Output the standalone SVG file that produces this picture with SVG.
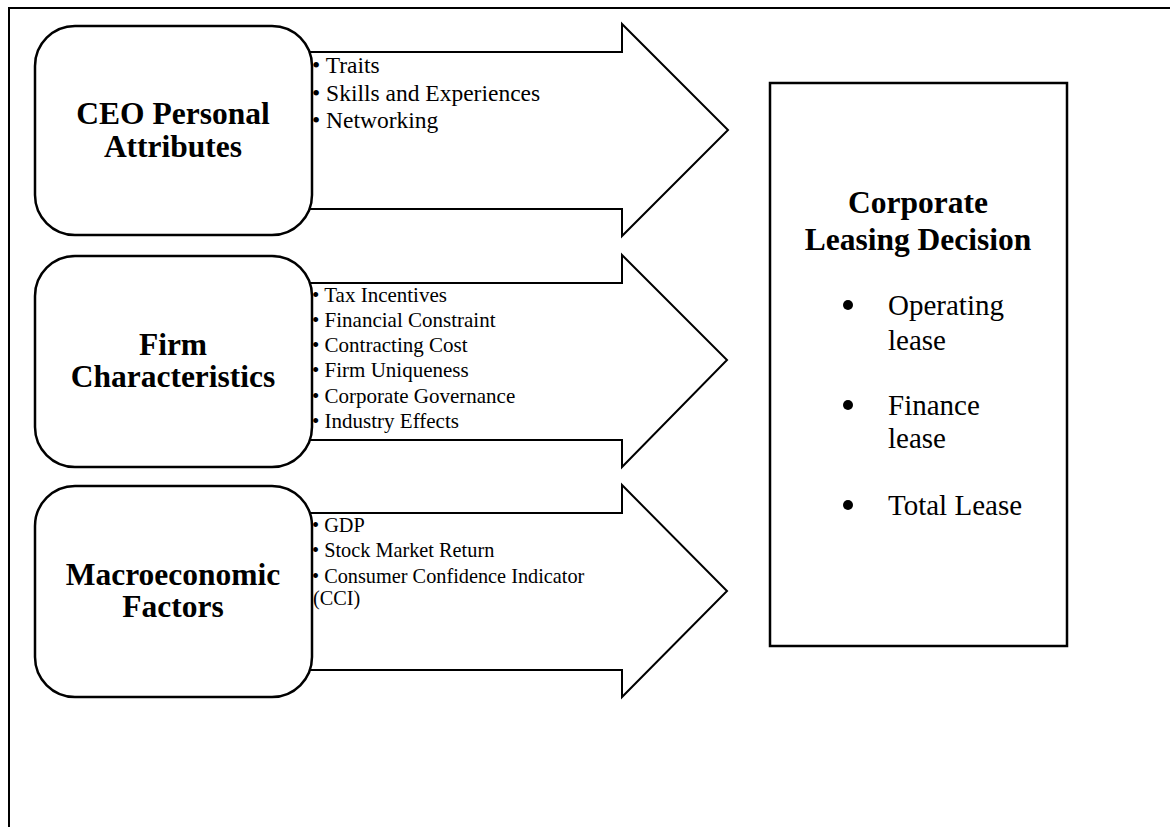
<svg xmlns="http://www.w3.org/2000/svg" width="1170" height="827" viewBox="0 0 1170 827">
<style>
.frame{stroke:#000;stroke-width:2;fill:none}
.node{fill:#fff;stroke:#000;stroke-width:2.5}
.arrow{fill:#fff;stroke:#000;stroke-width:2;stroke-linejoin:miter}
.title{font-family:"Liberation Serif","Times New Roman",serif;font-weight:bold;font-size:31.5px;fill:#000;text-anchor:middle}
.item{font-family:"Liberation Serif","Times New Roman",serif;fill:#000}
.big{font-family:"Liberation Serif","Times New Roman",serif;font-size:29px;fill:#000}
</style>
<rect width="1170" height="827" fill="#fff"/>
<path class="frame" d="M9,827 V8 H1170"/>
<g id="connectors">
  <g id="arrow-ceo">
    <path class="arrow" d="M280,52 H622 V24 L728,130 L622,236 V209 H280 Z"/>
    <text class="item" font-size="23.5"><tspan x="312" y="73">• Traits</tspan><tspan x="312" y="101">• Skills and Experiences</tspan><tspan x="312" y="128">• Networking</tspan></text>
  </g>
  <g id="arrow-firm">
    <path class="arrow" d="M280,283 H622 V255 L727,360 L622,467 V440 H280 Z"/>
    <text class="item" font-size="21"><tspan x="312" y="302">• Tax Incentives</tspan><tspan x="312" y="327">• Financial Constraint</tspan><tspan x="312" y="352">• Contracting Cost</tspan><tspan x="312" y="377">• Firm Uniqueness</tspan><tspan x="312" y="403">• Corporate Governance</tspan><tspan x="312" y="428">• Industry Effects</tspan></text>
  </g>
  <g id="arrow-macro">
    <path class="arrow" d="M280,513 H622 V485 L727,591 L622,697 V670 H280 Z"/>
    <text class="item" font-size="20.3"><tspan x="312" y="532">• GDP</tspan><tspan x="312" y="557">• Stock Market Return</tspan><tspan x="312" y="583">• Consumer Confidence Indicator</tspan><tspan x="313" y="605">(CCI)</tspan></text>
  </g>
</g>
<g id="node-ceo">
  <rect class="node" x="35" y="26" width="277" height="209" rx="40" ry="40"/>
  <text class="title"><tspan x="173" y="124">CEO Personal</tspan><tspan x="173" y="157">Attributes</tspan></text>
</g>
<g id="node-firm">
  <rect class="node" x="35" y="256" width="277" height="211" rx="40" ry="40"/>
  <text class="title"><tspan x="173" y="355">Firm</tspan><tspan x="173" y="387">Characteristics</tspan></text>
</g>
<g id="node-macro">
  <rect class="node" x="35" y="486" width="277" height="211" rx="40" ry="40"/>
  <text class="title"><tspan x="173" y="585">Macroeconomic</tspan><tspan x="173" y="617">Factors</tspan></text>
</g>
<g id="node-decision">
  <rect class="node" x="770" y="83" width="297" height="563"/>
  <text class="title" font-size="32.5"><tspan x="918" y="213">Corporate</tspan><tspan x="918" y="250">Leasing Decision</tspan></text>
  <circle cx="848" cy="305" r="5"/>
  <circle cx="848" cy="405" r="5"/>
  <circle cx="848" cy="505" r="5"/>
  <text class="big"><tspan x="888" y="315">Operating</tspan><tspan x="888" y="350">lease</tspan><tspan x="888" y="415">Finance</tspan><tspan x="888" y="448">lease</tspan><tspan x="888" y="515">Total Lease</tspan></text>
</g>
</svg>
